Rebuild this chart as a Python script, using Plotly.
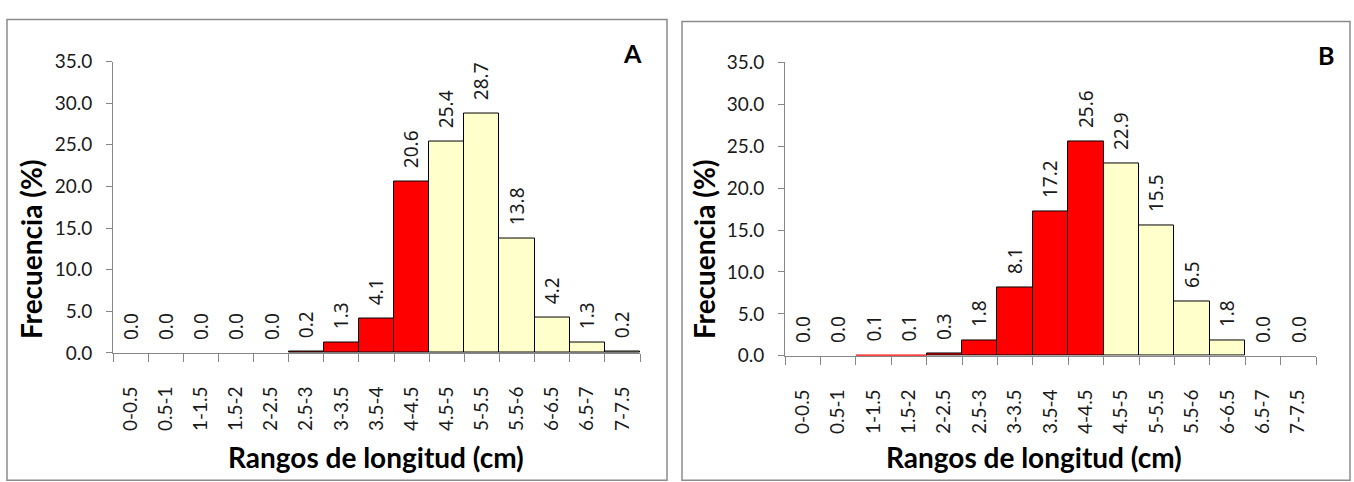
import plotly.graph_objects as go

categories = ["0-0.5", "0.5-1", "1-1.5", "1.5-2", "2-2.5", "2.5-3", "3-3.5", "3.5-4",
              "4-4.5", "4.5-5", "5-5.5", "5.5-6", "6-6.5", "6.5-7", "7-7.5"]
values_a = [0.0, 0.0, 0.0, 0.0, 0.0, 0.2, 1.3, 4.1, 20.6, 25.4, 28.7, 13.8, 4.2, 1.3, 0.2]
values_b = [0.0, 0.0, 0.1, 0.1, 0.3, 1.8, 8.1, 17.2, 25.6, 22.9, 15.5, 6.5, 1.8, 0.0, 0.0]
y_ticks = [0, 5, 10, 15, 20, 25, 30, 35]
panel_labels = ["A", "B"]
x_title = "Rangos de longitud (cm)"
y_title = "Frecuencia (%)"

RED = "#FF0000"
YELLOW = "#FFFFCC"
split_index = categories.index("4.5-5")

W, H = 1354, 482
fig = go.Figure()

panels = [
    dict(vals=values_a, xd=(113, 640), yd=(52, 358), frame=(7, 8, 667), letter=(632, 43),
         ytitle_x=31, xtitle_x=376),
    dict(vals=values_b, xd=(785, 1316), yd=(53, 361), frame=(682, 10, 1350), letter=(1326, 45),
         ytitle_x=704, xtitle_x=1034),
]

for i, p in enumerate(panels):
    n = "" if i == 0 else str(i + 1)
    colors = [RED if k < split_index else YELLOW for k in range(len(categories))]
    line_widths = [1 if v > 0.15 else 0 for v in p["vals"]]
    fig.add_trace(go.Bar(
        x=categories, y=p["vals"], xaxis="x" + n, yaxis="y" + n,
        marker=dict(color=colors, line=dict(color="#000000", width=line_widths)),
        text=[f"\u00a0\u00a0{v:.1f}" for v in p["vals"]], textposition="outside", textangle=-90,
        textfont=dict(family="Noto Sans", size=19, color="#1a1a1a"),
        constraintext="none", cliponaxis=False, width=1.0, showlegend=False,
    ))
    x0, x1 = p["xd"]
    yt, yb = p["yd"]
    fig.update_layout(**{
        "xaxis" + n: dict(domain=[x0 / W, x1 / W], anchor="y" + n, type="category",
                          tickangle=-90, ticks="outside", tickson="boundaries", ticklen=8,
                          tickcolor="#868686", showline=True, linecolor="#868686", linewidth=1,
                          showgrid=False, ticklabelstandoff=25,
                          tickfont=dict(family="Lato", size=19, color="#1a1a1a"),
                          range=[-0.5, len(categories) - 0.5]),
        "yaxis" + n: dict(domain=[1 - yb / H, 1 - yt / H], anchor="x" + n, range=[0, 35],
                          tickvals=y_ticks, tickformat=".1f", ticks="outside", ticklen=6,
                          tickcolor="#868686", showline=True, linecolor="#868686", linewidth=1,
                          showgrid=False, zeroline=False, ticklabelstandoff=10,
                          tickfont=dict(family="Lato", size=19, color="#1a1a1a")),
    })
    fx0, fy0, fx1 = p["frame"]
    fig.add_shape(type="rect", xref="paper", yref="paper", x0=fx0 / W, x1=fx1 / W,
                  y0=-0.02, y1=1 - fy0 / H, line=dict(color="#8C8C8C", width=1.5))
    lx, ly = p["letter"]
    fig.add_annotation(text=f"<b>{panel_labels[i]}</b>", xref="paper", yref="paper",
                       x=lx / W, y=1 - ly / H, xanchor="center", yanchor="middle",
                       showarrow=False, font=dict(family="Lato", size=25, color="#000000"))
    fig.add_annotation(text=f"<b>{y_title}</b>", xref="paper", yref="paper",
                       x=p["ytitle_x"] / W, y=1 - 249 / H, xanchor="center", yanchor="middle",
                       showarrow=False, textangle=-90,
                       font=dict(family="Lato", size=28, color="#000000"))
    fig.add_annotation(text=f"<b>{x_title}</b>", xref="paper", yref="paper",
                       x=p["xtitle_x"] / W, y=1 - 467 / H, xanchor="center", yanchor="middle",
                       showarrow=False, font=dict(family="Lato", size=28, color="#000000"))

fig.update_layout(width=W, height=H, margin=dict(l=0, r=0, t=0, b=0),
                  plot_bgcolor="white", paper_bgcolor="white", bargap=0)
fig.write_html("out.html")
